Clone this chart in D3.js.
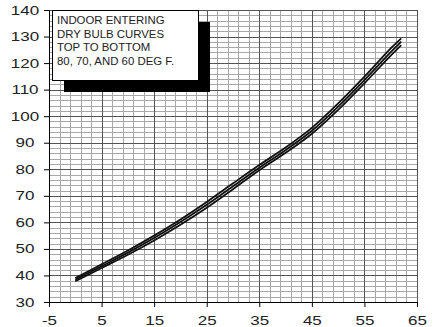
<!DOCTYPE html>
<html>
<head>
<meta charset="utf-8">
<script src="https://cdn.jsdelivr.net/npm/d3@7"></script>
<style>
  body { margin: 0; background: #fff; }
  svg text { font-family: "Liberation Sans", Arial, sans-serif; }
</style>
</head>
<body>
<div class="chart"></div>
<script>
const width = 440;
const height = 327;
const margin = {top: 10, right: 23, bottom: 25, left: 49};

// outdoor temp (x) and capacity curves for indoor dry bulb 80 / 70 / 60
const temps = [0, 5, 10, 15, 20, 25, 30, 35, 40, 45, 50, 55, 60, 62];
const db80 = [39.0, 44.2, 49.4, 55.0, 61.1, 67.7, 74.7, 81.6, 88.2, 95.6, 104.8, 114.9, 125.5, 129.3];
const db70 = [38.4, 43.5, 48.6, 54.1, 60.1, 66.6, 73.6, 80.6, 87.2, 94.5, 103.6, 113.6, 124.1, 128.1];
const db60 = [37.8, 42.8, 47.8, 53.2, 59.1, 65.5, 72.5, 79.6, 86.2, 93.4, 102.4, 112.4, 122.8, 126.8];
const xTicks = [-5, 5, 15, 25, 35, 45, 55, 65];
const yTicks = [30, 40, 50, 60, 70, 80, 90, 100, 110, 120, 130, 140];
const legendLines = ["INDOOR ENTERING", "DRY BULB CURVES", "TOP TO BOTTOM", "80, 70, AND 60 DEG F."];

const svg = d3.select(".chart").append("svg").attr("width", width).attr("height", height);
const plot = svg.append("g").attr("transform", `translate(${margin.left},${margin.top})`);
const w = width - margin.left - margin.right;
const h = height - margin.top - margin.bottom;

const x = d3.scaleLinear().domain([-5, 65]).range([0, w]);
const y = d3.scaleLinear().domain([30, 140]).range([h, 0]);

// minor grid every 2 units
plot.append("g").selectAll("line")
  .data(d3.range(-3, 65, 2))
  .enter().append("line")
    .attr("x1", d => Math.round(x(d)) + 0.5).attr("x2", d => Math.round(x(d)) + 0.5)
    .attr("y1", 0).attr("y2", h)
    .attr("stroke", "#a8a8a8");
plot.append("g").selectAll("line")
  .data(d3.range(32, 140, 2).filter(d => d % 10 !== 0))
  .enter().append("line")
    .attr("y1", d => Math.round(y(d)) + 0.5).attr("y2", d => Math.round(y(d)) + 0.5)
    .attr("x1", 0).attr("x2", w)
    .attr("stroke", "#a8a8a8");

// major grid
plot.append("g").selectAll("line")
  .data(xTicks.slice(1))
  .enter().append("line")
    .attr("x1", d => Math.round(x(d)) + 0.5).attr("x2", d => Math.round(x(d)) + 0.5)
    .attr("y1", 0).attr("y2", h)
    .attr("stroke", "#555");
plot.append("g").selectAll("line")
  .data(yTicks.slice(1))
  .enter().append("line")
    .attr("y1", d => Math.round(y(d)) + 0.5).attr("y2", d => Math.round(y(d)) + 0.5)
    .attr("x1", 0).attr("x2", w)
    .attr("stroke", "#555");

// axes
const xAxis = plot.append("g")
  .attr("transform", `translate(0,${h})`)
  .call(d3.axisBottom(x).tickValues(xTicks).tickFormat(d => String(d)).tickSize(5).tickPadding(9));
const yAxis = plot.append("g")
  .call(d3.axisLeft(y).tickValues(yTicks).tickFormat(d => String(d)).tickSize(5));
[xAxis, yAxis].forEach(a => {
  a.select(".domain").attr("stroke", "#000");
  a.selectAll(".tick line").attr("stroke", "#000");
  a.selectAll("text").attr("font-size", 12.6).attr("fill", "#222")
    .style("font-family", '"Liberation Sans", Arial, sans-serif');
});
// y labels sit centred left of the axis
yAxis.selectAll("text").attr("text-anchor", "middle").attr("x", -24);
// the original lettering is wider than Arial
svg.selectAll(".tick text").each(function() {
  const len = this.getComputedTextLength();
  d3.select(this).attr("textLength", len * 1.35).attr("lengthAdjust", "spacingAndGlyphs");
});

// curves
const line = d3.line()
  .x((d, i) => x(temps[i]))
  .y(d => y(d))
  .curve(d3.curveCatmullRom);

[db80, db70, db60].forEach(s => {
  plot.append("path")
    .datum(s)
    .attr("d", line)
    .attr("fill", "none")
    .attr("stroke", "#111")
    .attr("stroke-width", 1.8);
});

// legend box with shadow
const lx = 3, ly = 0, lw = 146, lh = 70;
plot.append("rect")
  .attr("x", lx + 12).attr("y", ly + 12)
  .attr("width", lw).attr("height", lh)
  .attr("fill", "#000");
plot.append("rect")
  .attr("x", lx + 0.5).attr("y", ly + 0.5)
  .attr("width", lw).attr("height", lh)
  .attr("fill", "#fff").attr("stroke", "#000");
plot.append("g").selectAll("text")
  .data(legendLines)
  .enter().append("text")
    .attr("x", lx + 5)
    .attr("y", (d, i) => ly + 14 + i * 13.6)
    .attr("font-size", 11.4)
    .attr("fill", "#222")
    .text(d => d);
</script>
</body>
</html>
